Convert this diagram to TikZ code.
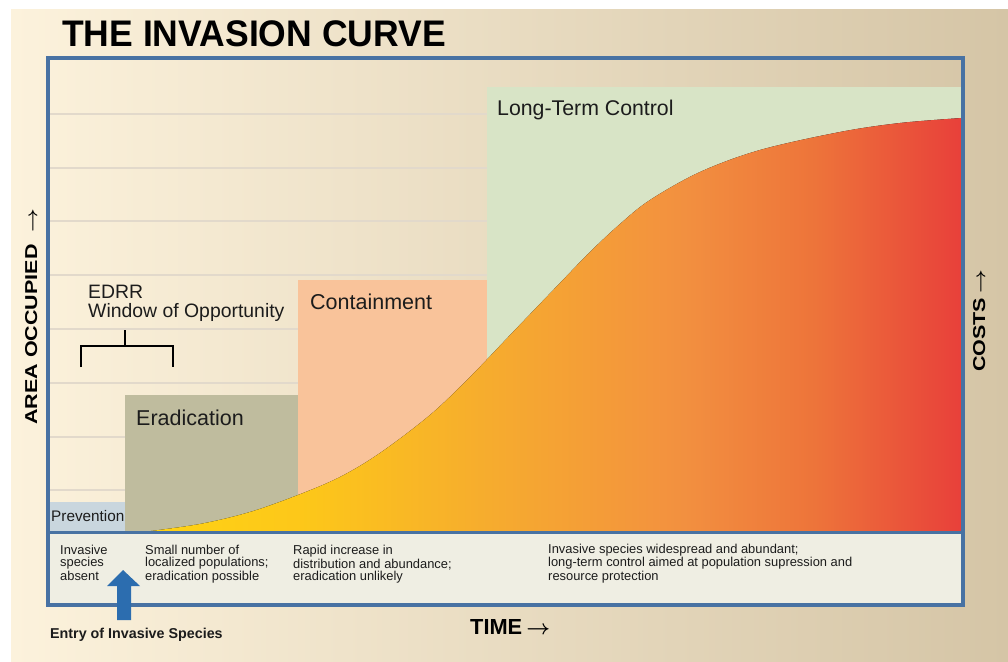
\documentclass[tikz,border=0pt]{standalone}
\usepackage{fontspec}
\usepackage{amsmath}
\setmainfont{Liberation Sans}
\definecolor{bgL}{HTML}{FCF2DC}
\definecolor{bgR}{HTML}{D5C5A6}
\definecolor{frameblue}{HTML}{4872A3}
\definecolor{gridc}{HTML}{E2D9CB}
\definecolor{prevc}{HTML}{C9D6DE}
\definecolor{eradc}{HTML}{BFBC9E}
\definecolor{contc}{HTML}{F9C39A}
\definecolor{ltcc}{HTML}{D8E4C6}
\definecolor{panelc}{HTML}{EFEEE3}
\definecolor{arrowblue}{HTML}{2C6DAF}
\definecolor{txt}{HTML}{1C1C1C}
\pgfdeclarehorizontalshading{curveshade}{100bp}{rgb(0bp)=(1,0.83,0.08); rgb(25bp)=(1,0.83,0.08); rgb(35bp)=(0.99,0.78,0.10); rgb(46bp)=(0.965,0.675,0.18); rgb(58bp)=(0.95,0.565,0.25); rgb(66bp)=(0.93,0.455,0.227); rgb(75bp)=(0.91,0.25,0.227); rgb(100bp)=(0.91,0.25,0.227)}
\newcommand{\myarrow}{$\boldsymbol{\rightarrow}$}
\tikzset{
  frame/.style={draw=frameblue, line width=3.2pt},
  gridline/.style={draw=gridc, line width=2.5pt},
  boxlabel/.style={anchor=base west, inner sep=0pt, text=txt, font=\fontsize{21.5}{22}\selectfont},
  smalltext/.style={anchor=base west, inner sep=0pt, text=txt, align=left, font=\fontsize{12.9}{12}\selectfont},
  axislabel/.style={anchor=base west, inner sep=0pt, text=black, font=\bfseries\fontsize{21.5}{22}\selectfont},
}
\begin{document}
\begin{tikzpicture}[x=1pt,y=-1pt]
\useasboundingbox (0,0) rectangle (1008,661);
% background
\shade[left color=bgL, right color=bgR] (11,10) rectangle (1008,661);
% grid lines
\foreach \yy in {114,168,221,275,329,383,437,490}
  \draw[gridline] (50,\yy) -- (962,\yy);
% phase boxes
\fill[prevc] (50,502) rectangle (125,532);
\fill[eradc] (125,395) rectangle (298,532);
\fill[contc] (298,280) rectangle (487,532);
\fill[ltcc] (487,87) rectangle (962,532);
% invasion curve
\fill[shading=curveshade] plot[smooth, tension=0.55] coordinates {(143,532) (200,524) (250,512) (298,495) (340,477) (380,453) (430,415) (470,377) (513,332) (560,283) (590,252) (620,224) (650,200) (700,172) (760,150) (840,132) (900,123) (962,118)} -- (962,532) -- cycle;
% bottom panel
\fill[panelc] (48,532) rectangle (963,605);
\draw[frame] (48,58) rectangle (963,605);
\draw[frame] (48,532.5) -- (963,532.5);
% title
\node[anchor=base west, inner sep=0pt, font=\bfseries\fontsize{37}{40}\selectfont] (title) at (62,47) {\scalebox{0.96}[1]{THE INVASION CURVE}};
% box labels
\node[boxlabel, font=\fontsize{21.3}{22}\selectfont] (ltc) at (497,115) {Long-Term Control};
\node[boxlabel] (cont) at (310,309) {Containment};
\node[boxlabel] (erad) at (136,425) {Eradication};
\node[boxlabel, font=\fontsize{15.3}{16}\selectfont] (prev) at (51,521) {Prevention};
\node[boxlabel, align=left, font=\fontsize{19.4}{18.5}\selectfont] (edrr) at (88,317) {EDRR\\Window of Opportunity};
% bracket
\draw[line width=2pt, black] (81,367) -- (81,346) -- (173,346) -- (173,367);
\draw[line width=2pt, black] (125,346) -- (125,330);
% bottom texts
\node[smalltext] (t1) at (60,580) {Invasive\\species\\absent};
\node[smalltext] (t2) at (145,580) {Small number of\\localized populations;\\eradication possible};
\node[smalltext] (t3) at (293,580) {Rapid increase in\\distribution and abundance;\\eradication unlikely};
\node[smalltext] (t4) at (548,580) {Invasive species widespread and abundant;\\long-term control aimed at population supression and\\resource protection};
% entry arrow
\fill[arrowblue] (123,570) -- (140,586) -- (131,586) -- (131,620) -- (117,620) -- (117,586) -- (107,586) -- cycle;
\node[anchor=base west, inner sep=0pt, text=txt, font=\bfseries\fontsize{14.3}{16}\selectfont] (entry) at (50,638) {Entry of Invasive Species};
% axis labels
\node[axislabel, font=\bfseries\fontsize{21.8}{22}\selectfont] (time) at (470,634) {TIME\hspace{4pt}\myarrow};
\node[axislabel, rotate=90] (area) at (37,425) {\scalebox{1}[0.8]{AREA OCCUPIED\hspace{12pt}\myarrow}};
\node[axislabel, rotate=90] (costs) at (985,372) {\scalebox{1}[0.8]{COSTS\hspace{4pt}\myarrow}};
\end{tikzpicture}
\end{document}
